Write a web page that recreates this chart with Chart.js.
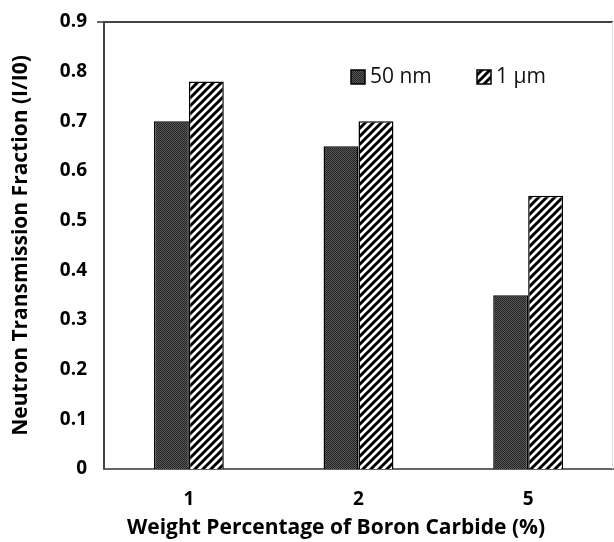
<!DOCTYPE html>
<html>
<head>
<meta charset="utf-8">
<script src="https://cdn.jsdelivr.net/npm/chart.js@4"></script>
<style>
  html, body { margin: 0; padding: 0; background: #fff; }
  #wrap { width: 614px; height: 542px; }
</style>
</head>
<body>
<div id="wrap"><canvas id="chart" width="614" height="542"></canvas></div>
<script>
// data
const categories = ['1', '2', '5'];
const seriesNames = ['50 nm', '1 \u00b5m'];
const nm50 = [0.70, 0.65, 0.35];
const um1 = [0.78, 0.70, 0.55];
const yMin = 0, yMax = 0.9, yStep = 0.1;
const xTitle = 'Weight Percentage of Boron Carbide (%)';
const yTitle = 'Neutron Transmission Fraction (I/I0)';

const FONT = '"Open Sans", Lato, sans-serif';

// fine dotted dark grey fill
function dotPattern() {
  const c = document.createElement('canvas');
  c.width = 2; c.height = 2;
  const g = c.getContext('2d');
  g.fillStyle = '#595959'; g.fillRect(0, 0, 2, 2);
  g.fillStyle = '#222';
  g.fillRect(0, 0, 1, 1); g.fillRect(1, 1, 1, 1);
  return g.createPattern(c, 'repeat');
}

// black "/" stripes on white
function hatchPattern() {
  const s = 8;
  const c = document.createElement('canvas');
  c.width = s; c.height = s;
  const g = c.getContext('2d');
  g.fillStyle = '#fff'; g.fillRect(0, 0, s, s);
  g.strokeStyle = '#000'; g.lineWidth = 3;
  g.beginPath();
  g.moveTo(-1, s + 1); g.lineTo(s + 1, -1);
  g.moveTo(-1, 1); g.lineTo(1, -1);
  g.moveTo(s - 1, s + 1); g.lineTo(s + 1, s - 1);
  g.stroke();
  return g.createPattern(c, 'repeat');
}

// legend inside the plot + x title (sits left of the plot centre in the original)
const extras = {
  id: 'extras',
  afterDraw(chart) {
    const ctx = chart.ctx;
    const spots = [351, 477];
    ctx.save();
    ctx.font = '21px ' + FONT;
    ctx.textBaseline = 'middle';
    chart.data.datasets.forEach((ds, i) => {
      const x = spots[i], y = 70;
      ctx.fillStyle = ds.backgroundColor;
      ctx.fillRect(x, y, 14, 14);
      ctx.strokeStyle = '#000';
      ctx.lineWidth = 1.5;
      ctx.strokeRect(x, y, 14, 14);
      ctx.fillStyle = '#111';
      ctx.fillText(ds.label, x + 19, y + 7);
    });

    ctx.font = 'bold 21px ' + FONT;
    ctx.fillStyle = '#000';
    ctx.textAlign = 'center';
    ctx.fillText(xTitle, 336, 528);

    // faint right frame line
    ctx.strokeStyle = '#ddd';
    ctx.lineWidth = 1;
    ctx.beginPath();
    ctx.moveTo(612.5, chart.chartArea.top);
    ctx.lineTo(612.5, chart.chartArea.bottom);
    ctx.stroke();
    ctx.restore();
  }
};

new Chart(document.getElementById('chart'), {
  type: 'bar',
  data: {
    labels: categories,
    datasets: [
      { label: seriesNames[0], data: nm50, backgroundColor: dotPattern(), borderColor: '#000', borderWidth: 1.5 },
      { label: seriesNames[1], data: um1, backgroundColor: hatchPattern(), borderColor: '#000', borderWidth: 1.5 }
    ]
  },
  options: {
    responsive: false,
    animation: false,
    devicePixelRatio: 1,
    categoryPercentage: 0.412,
    barPercentage: 1,
    layout: { padding: { top: 22, right: 1, left: 0, bottom: 0 } },
    plugins: {
      legend: { display: false },
      tooltip: { enabled: false }
    },
    scales: {
      x: {
        grid: { display: false },
        border: { color: '#666', width: 2 },
        ticks: { color: '#000', padding: 11, font: { family: FONT, size: 19, weight: 'bold' } },
        afterFit(s) { s.height = 73; }
      },
      y: {
        min: yMin,
        max: yMax,
        ticks: {
          stepSize: yStep,
          color: '#000',
          padding: 10,
          font: { family: FONT, size: 19, weight: 'bold' },
          callback: v => (v === 0 ? '0' : v.toFixed(1))
        },
        grid: {
          drawTicks: true,
          tickLength: 7,
          tickColor: '#666',
          lineWidth: ctx => (ctx.tick && Math.abs(ctx.tick.value - yMax) < 1e-9 ? 2 : 0),
          color: ctx => (ctx.tick && Math.abs(ctx.tick.value - yMax) < 1e-9 ? '#444' : 'rgba(0,0,0,0)')
        },
        border: { color: '#444', width: 2 },
        title: {
          display: true,
          text: yTitle,
          color: '#000',
          font: { family: FONT, size: 21, weight: 'bold' },
          padding: { top: 8, bottom: 0 }
        },
        afterFit(s) { s.width = 104; }
      }
    }
  },
  plugins: [extras]
});
</script>
</body>
</html>
